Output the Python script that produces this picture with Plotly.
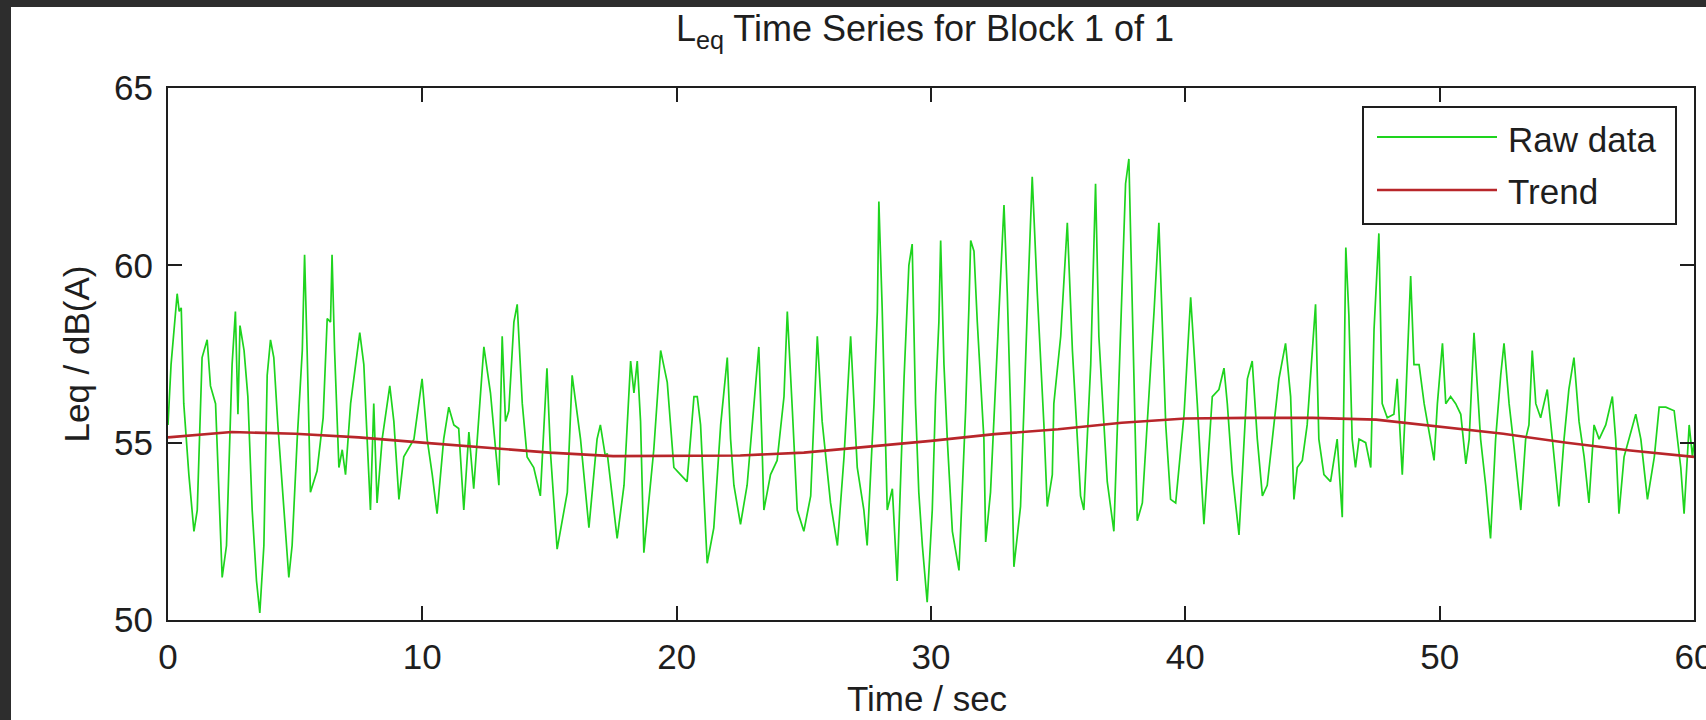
import plotly.graph_objects as go

# ---- measured Leq samples (time in s, level in dB(A)) ----
raw_t = [
    0.0, 0.12, 0.36, 0.44, 0.52, 0.62, 0.82, 1.02, 1.15, 1.34, 1.54, 1.67, 1.87, 2.0, 2.13,
    2.30, 2.52, 2.65, 2.75, 2.83, 2.99, 3.14, 3.31, 3.48, 3.61, 3.77, 3.90, 4.03, 4.16, 4.32,
    4.55, 4.75, 4.88, 5.08, 5.28, 5.37, 5.47, 5.60, 5.86, 6.10, 6.26, 6.39, 6.45, 6.55, 6.72,
    6.85, 6.98, 7.18, 7.54, 7.70, 7.83, 7.96, 8.09, 8.22, 8.42, 8.72, 8.88, 9.08, 9.27, 9.67,
    9.99, 10.19, 10.39, 10.58, 10.84, 11.04, 11.24, 11.43, 11.63, 11.83, 12.02, 12.22, 12.42,
    12.68, 13.01, 13.14, 13.27, 13.40, 13.60, 13.73, 13.93, 14.12, 14.38, 14.64, 14.90, 14.98,
    15.04, 15.30, 15.50, 15.70, 15.89, 16.09, 16.22, 16.55, 16.87, 17.00, 17.20, 17.27, 17.66,
    17.93, 18.19, 18.32, 18.45, 18.58, 18.71, 19.10, 19.37, 19.63, 19.89, 20.15, 20.41, 20.68,
    20.81, 20.94, 21.20, 21.46, 21.73, 21.99, 22.12, 22.25, 22.51, 22.77, 23.04, 23.23, 23.37,
    23.43, 23.69, 23.95, 24.22, 24.35, 24.55, 24.74, 25.00, 25.27, 25.53, 25.72, 26.05, 26.32,
    26.58, 26.84, 27.10, 27.36, 27.49, 27.76, 27.89, 27.95, 28.08, 28.28, 28.48, 28.67, 28.94,
    29.13, 29.26, 29.39, 29.52, 29.66, 29.85, 30.05, 30.18, 30.31, 30.38, 30.51, 30.64, 30.84,
    31.10, 31.36, 31.49, 31.56, 31.69, 31.82, 32.08, 32.15, 32.34, 32.61, 32.87, 33.00, 33.13,
    33.26, 33.52, 33.79, 33.98, 34.18, 34.44, 34.57, 34.77, 34.83, 35.10, 35.36, 35.56, 35.88,
    36.01, 36.28, 36.47, 36.60, 36.93, 37.19, 37.46, 37.65, 37.78, 37.92, 38.11, 38.31, 38.57,
    38.77, 38.96, 39.09, 39.23, 39.42, 39.62, 39.95, 40.21, 40.47, 40.73, 41.06, 41.32, 41.52,
    41.65, 41.85, 42.11, 42.24, 42.44, 42.63, 42.83, 43.03, 43.22, 43.42, 43.68, 43.94, 44.14,
    44.27, 44.40, 44.60, 44.79, 45.12, 45.25, 45.45, 45.71, 45.97, 46.17, 46.31, 46.43, 46.56,
    46.69, 46.83, 47.09, 47.29, 47.42, 47.61, 47.68, 47.74, 47.94, 48.20, 48.33, 48.53, 48.66,
    48.86, 48.99, 49.19, 49.39, 49.58, 49.78, 49.91, 50.11, 50.24, 50.43, 50.63, 50.83, 51.03,
    51.16, 51.35, 51.48, 51.61, 51.81, 52.00, 52.20, 52.40, 52.53, 52.73, 52.92, 53.19, 53.38,
    53.51, 53.64, 53.78, 53.97, 54.23, 54.43, 54.69, 54.89, 55.08, 55.28, 55.48, 55.68, 55.87,
    56.07, 56.27, 56.53, 56.79, 56.92, 57.05, 57.25, 57.51, 57.71, 57.91, 58.17, 58.44, 58.63,
    58.89, 59.22, 59.48, 59.61, 59.81, 59.94, 60.0,
]
raw_leq = [
    55.5, 57.2, 59.2, 58.7, 58.8, 56.1, 54.1, 52.5, 53.1, 57.4, 57.9, 56.6, 56.1, 53.6, 51.2,
    52.1, 57.2, 58.7, 55.8, 58.3, 57.6, 56.3, 53.1, 51.1, 50.2, 52.1, 56.9, 57.9, 57.4, 55.5,
    53.1, 51.2, 52.1, 55.1, 57.6, 60.3, 57.6, 53.6, 54.2, 55.7, 58.5, 58.4, 60.3, 57.6, 54.3,
    54.8, 54.1, 56.1, 58.1, 57.2, 55.1, 53.1, 56.1, 53.3, 55.1, 56.6, 55.6, 53.4, 54.6, 55.1,
    56.8, 55.1, 54.1, 53.0, 55.1, 56.0, 55.5, 55.4, 53.1, 55.3, 53.7, 55.6, 57.7,
    56.4, 53.8, 58.0, 55.6, 55.9, 58.4, 58.9, 56.1, 54.6, 54.3, 53.5, 57.1, 55.7,
    54.7, 52.0, 52.8, 53.6, 56.9, 55.8, 55.1, 52.6, 55.1, 55.5, 54.6, 54.7, 52.3,
    53.8, 57.3, 56.4, 57.3, 55.6, 51.9, 54.8, 57.6, 56.7, 54.3, 54.1, 53.9, 56.3,
    56.3, 55.5, 51.6, 52.6, 55.5, 57.4, 55.1, 53.8, 52.7, 53.8, 56.1, 57.7, 54.6,
    53.1, 54.1, 54.5, 56.3, 58.7, 55.9, 53.1, 52.5, 53.5, 58.0, 55.6, 53.3, 52.1,
    54.6, 58.0, 54.3, 53.1, 52.1, 56.1, 58.7, 61.8, 58.8, 53.1, 53.7, 51.1, 56.8,
    60.0, 60.6, 56.1, 53.6, 52.1, 50.5, 53.1, 56.3, 58.4, 60.7, 57.2, 55.1, 52.5,
    51.4, 55.9, 58.8, 60.7, 60.4, 58.4, 55.1, 52.2, 53.6, 57.6, 61.7, 59.2, 55.9,
    51.5, 53.2, 58.8, 62.5, 59.2, 55.5, 53.2, 54.1, 56.1, 58.0, 61.2, 57.6, 53.5,
    53.1, 57.2, 62.3, 58.0, 53.9, 52.5, 58.2, 62.3, 63.0, 58.7, 52.8, 53.3, 56.3,
    58.7, 61.2, 58.4, 55.5, 53.4, 53.3, 55.8, 59.1, 56.1, 52.7, 56.3, 56.5, 57.1,
    56.1, 54.1, 52.4, 54.1, 56.8, 57.3, 55.1, 53.5, 53.8, 55.1, 56.8, 57.8, 56.3,
    53.4, 54.3, 54.5, 55.5, 58.9, 55.1, 54.1, 53.9, 55.1, 52.9, 60.5, 58.6, 55.1,
    54.3, 55.1, 55.0, 54.3, 58.2, 60.9, 58.5, 56.1, 55.7, 55.8, 56.8, 54.1, 56.1,
    59.7, 57.2, 57.2, 56.1, 55.3, 54.5, 56.1, 57.8, 56.1, 56.3, 56.1, 55.8, 54.4,
    55.1, 58.1, 56.7, 55.1, 53.8, 52.3, 55.1, 56.9, 57.8, 56.1, 54.9, 53.1, 55.1,
    55.5, 57.6, 56.1, 55.7, 56.5, 55.1, 53.2, 55.1, 56.5, 57.4, 55.6, 54.6, 53.3,
    55.5, 55.1, 55.5, 56.3, 55.1, 53.0, 54.6, 55.3, 55.8, 55.1, 53.4, 54.6, 56.0,
    56.0, 55.9, 54.3, 53.0, 55.5, 54.6, 55.0,
]

# ---- slowly varying trend of the same record ----
trend_t = [0, 2.5, 5, 7.5, 10, 12.5, 15, 17.5, 20, 22.5, 25, 27.5, 30,
           32.5, 35, 37.5, 40, 42.5, 45, 47.5, 50, 52.5, 55, 57.5, 60]
trend_leq = [55.15, 55.3, 55.25, 55.15, 55.0, 54.85, 54.72, 54.62, 54.62, 54.64, 54.72,
             54.88, 55.05, 55.24, 55.38, 55.56, 55.68, 55.7, 55.7, 55.65, 55.44, 55.25,
             55.0, 54.78, 54.6]

x_ticks = [0, 10, 20, 30, 40, 50, 60]
y_ticks = [50, 55, 60, 65]
series_names = ["Raw data", "Trend"]

GREEN = "#1ed41e"
RED = "#b8262a"
INK = "#1e1e1e"
FONT = "Liberation Sans, Arial, sans-serif"

W, H = 1706, 720
ML, MR, MT, MB = 168, 12, 88, 100
PW, PH = W - ML - MR, H - MT - MB


def px_x(p):
    return (p - ML) / PW


def px_y(p):
    return (H - MB - p) / PH


fig = go.Figure()
fig.add_trace(go.Scatter(x=raw_t, y=raw_leq, mode="lines", name=series_names[0],
                         line=dict(color=GREEN, width=1.7)))
fig.add_trace(go.Scatter(x=trend_t, y=trend_leq, mode="lines", name=series_names[1],
                         line=dict(color=RED, width=2.6)))

axis_common = dict(
    showgrid=False, zeroline=False, showline=True, linecolor=INK, linewidth=2,
    mirror="ticks", ticks="inside", ticklen=14, tickwidth=2, tickcolor=INK,
    tickfont=dict(family=FONT, size=35, color=INK), ticklabeloverflow="allow",
    automargin=False,
)

fig.update_xaxes(range=[0, 60], tickvals=x_ticks, ticktext=[str(v) for v in x_ticks],
                 ticklabelstandoff=5, **axis_common)
fig.update_yaxes(range=[50, 65], tickvals=y_ticks, ticktext=[str(v) for v in y_ticks],
                 title=dict(text="Leq / dB(A)", font=dict(family=FONT, size=35, color=INK),
                            standoff=14),
                 ticklabelstandoff=6, **axis_common)

# legend box drawn in paper space
shapes = [
    dict(type="rect", xref="paper", yref="paper", x0=px_x(1363), x1=px_x(1676),
         y0=px_y(224), y1=px_y(107), line=dict(color=INK, width=2), fillcolor="white",
         layer="above"),
    dict(type="line", xref="paper", yref="paper", x0=px_x(1377), x1=px_x(1497),
         y0=px_y(137), y1=px_y(137), line=dict(color=GREEN, width=2), layer="above"),
    dict(type="line", xref="paper", yref="paper", x0=px_x(1377), x1=px_x(1497),
         y0=px_y(190), y1=px_y(190), line=dict(color=RED, width=2.6), layer="above"),
    # dark window frame along top and left edges
    dict(type="rect", xref="paper", yref="paper", x0=px_x(0), x1=px_x(W),
         y0=px_y(7), y1=px_y(0), line=dict(width=0), fillcolor="#2d2d2d", layer="above"),
    dict(type="rect", xref="paper", yref="paper", x0=px_x(0), x1=px_x(11),
         y0=px_y(H), y1=px_y(0), line=dict(width=0), fillcolor="#2d2d2d", layer="above"),
]
annotations = [
    dict(text=series_names[0], xref="paper", yref="paper", x=px_x(1506), y=px_y(139),
         xanchor="left", yanchor="middle", showarrow=False,
         font=dict(family=FONT, size=35, color=INK)),
    dict(text=series_names[1], xref="paper", yref="paper", x=px_x(1506), y=px_y(191),
         xanchor="left", yanchor="middle", showarrow=False,
         font=dict(family=FONT, size=35, color=INK)),
    # x-axis title
    dict(text="Time / sec", xref="paper", yref="paper", x=px_x(927), y=px_y(698),
         xanchor="center", yanchor="middle", showarrow=False,
         font=dict(family=FONT, size=35, color=INK)),
]

fig.update_layout(
    width=W, height=H,
    margin=dict(l=ML, r=MR, t=MT, b=MB, pad=0, autoexpand=False),
    paper_bgcolor="white", plot_bgcolor="white",
    showlegend=False,
    title=dict(text="L<sub>eq</sub> Time Series for Block 1 of 1",
               font=dict(family=FONT, size=36, color=INK),
               x=925 / W, xanchor="center", xref="container",
               y=1 - 16 / H, yanchor="top", yref="container"),
    shapes=shapes, annotations=annotations,
)

fig.write_html("out.html")
